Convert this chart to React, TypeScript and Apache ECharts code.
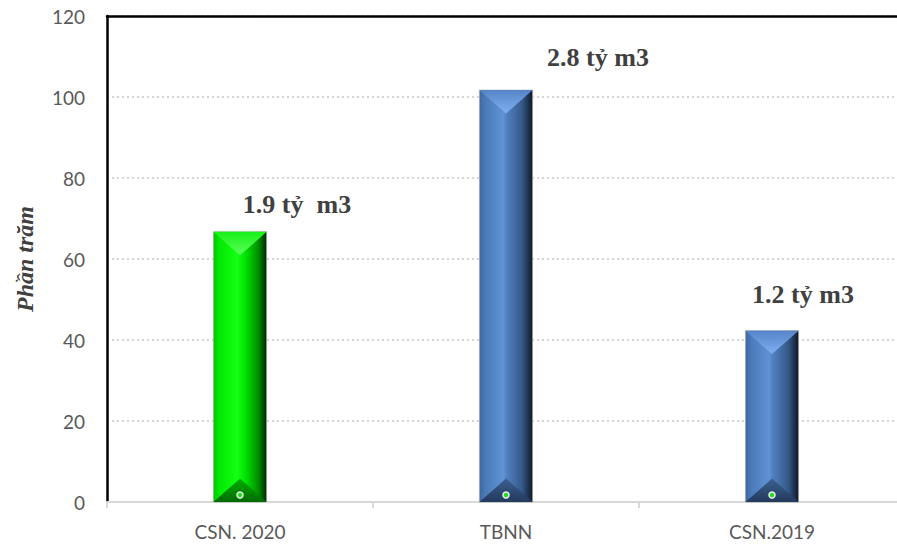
import React, { useEffect, useRef } from "react";
import * as echarts from "echarts";

const categories = ["CSN. 2020", "TBNN", "CSN.2019"];
const values = [66.7, 101.7, 42.3];
const barLabels = ["1.9 tỷ  m3", "2.8 tỷ m3", "1.2 tỷ m3"];
const yTicks = { min: 0, max: 120, interval: 20 };
const yTitle = "Phần trăm";

// label offsets relative to bar top-center (style/position, not data)
const labelOffsets = [
  [57, -27],
  [92, -33],
  [31, -36],
];

const palettes = [
  {
    body: [
      [0, "#00c400"],
      [0.1, "#00e800"],
      [0.45, "#14ff14"],
      [0.6, "#00e400"],
      [0.85, "#008c00"],
      [1, "#002800"],
    ],
    top: ["#5cff5c", "#18f018"],
    bottom: ["#00b000", "#006a00"],
  },
  {
    body: [
      [0, "#3d67a0"],
      [0.1, "#4a79b8"],
      [0.45, "#5f92d6"],
      [0.52, "#507fbf"],
      [0.8, "#35598a"],
      [1, "#0e1828"],
    ],
    top: ["#7fb0f0", "#5585c8"],
    bottom: ["#3c5f90", "#223a5c"],
  },
  {
    body: [
      [0, "#3d67a0"],
      [0.1, "#4a79b8"],
      [0.45, "#5f92d6"],
      [0.52, "#507fbf"],
      [0.8, "#35598a"],
      [1, "#0e1828"],
    ],
    top: ["#7fb0f0", "#5585c8"],
    bottom: ["#3c5f90", "#223a5c"],
  },
];

export default function App() {
  const ref = useRef<HTMLDivElement>(null);
  useEffect(() => {
    if (!ref.current) return;
    const chart = echarts.init(ref.current, null, { renderer: "svg" });
    const data = values.map((v, i) => [i, v]);
    chart.setOption({
      animation: false,
      backgroundColor: "#ffffff",
      grid: { left: 107, top: 16, bottom: 44, right: 15, containLabel: false },
      xAxis: [
        {
          type: "category",
          data: categories,
          axisLine: { show: true, lineStyle: { color: "#d9d9d9", width: 2 } },
          axisTick: { show: true, length: 6, lineStyle: { color: "#d9d9d9", width: 2 } },
          axisLabel: {
            color: "#595959",
            fontFamily: "Lato",
            fontSize: 19,
            margin: 20,
          },
          splitLine: { show: false },
        },
        {
          type: "category",
          position: "top",
          data: categories,
          axisLine: { show: true, lineStyle: { color: "#000000", width: 2.5 } },
          axisTick: { show: false },
          axisLabel: { show: false },
        },
      ],
      yAxis: {
        type: "value",
        min: yTicks.min,
        max: yTicks.max,
        interval: yTicks.interval,
        axisLine: { show: true, lineStyle: { color: "#000000", width: 2.5 } },
        axisTick: { show: false },
        axisLabel: {
          color: "#595959",
          fontFamily: "Lato",
          fontSize: 19,
          margin: 22,
        },
        splitLine: {
          show: true,
          lineStyle: { color: "#c8c8c8", width: 1.5, type: [2, 3] },
        },
      },
      graphic: [
        {
          type: "text",
          x: 25,
          y: 259,
          rotation: Math.PI / 2,
          style: {
            text: yTitle,
            fill: "#404040",
            font: "italic bold 24px 'Liberation Serif', serif",
            align: "center",
            verticalAlign: "middle",
          },
        },
      ],
      series: [
        {
          type: "custom",
          data,
          encode: { x: 0, y: 1 },
          renderItem: (params: any, api: any) => {
            const idx = params.dataIndex;
            const val = api.value(1);
            const topPt = api.coord([idx, val]);
            const basePt = api.coord([idx, 0]);
            const w = api.size([1, 0])[0] * 0.2;
            const cx = topPt[0];
            const x0 = cx - w / 2;
            const x1 = cx + w / 2;
            const y0 = topPt[1];
            const y1 = basePt[1];
            const bev = Math.min(w * 0.44, (y1 - y0) / 2);
            const pal = palettes[idx];
            const off = labelOffsets[idx];
            return {
              type: "group",
              children: [
                {
                  type: "rect",
                  shape: { x: x0, y: y0, width: w, height: y1 - y0 },
                  style: {
                    fill: new echarts.graphic.LinearGradient(
                      0, 0, 1, 0,
                      pal.body.map((s) => ({ offset: s[0] as number, color: s[1] as string }))
                    ),
                    stroke: "rgba(170,170,170,0.7)",
                    lineWidth: 1,
                  },
                },
                {
                  type: "polygon",
                  shape: { points: [[x0, y0], [x1, y0], [cx, y0 + bev]] },
                  style: {
                    fill: new echarts.graphic.LinearGradient(0, 0, 0, 1, [
                      { offset: 0, color: pal.top[1] },
                      { offset: 1, color: pal.top[0] },
                    ]),
                  },
                },
                {
                  type: "polygon",
                  shape: { points: [[x0, y1], [x1, y1], [cx, y1 - bev]] },
                  style: {
                    fill: new echarts.graphic.LinearGradient(0, 0, 0, 1, [
                      { offset: 0, color: pal.bottom[0] },
                      { offset: 1, color: pal.bottom[1] },
                    ]),
                  },
                },
                {
                  type: "circle",
                  shape: { cx: cx, cy: y1 - 7, r: 3 },
                  style: { fill: "#22dd22", stroke: "#f0f0f0", lineWidth: 1.5 },
                },
                {
                  type: "text",
                  x: cx + off[0],
                  y: y0 + off[1],
                  style: {
                    text: barLabels[idx],
                    fill: "#404040",
                    font: "bold 26px 'Liberation Serif', serif",
                    align: "center",
                    verticalAlign: "middle",
                  },
                },
              ],
            };
          },
        },
      ],
    });
    return () => chart.dispose();
  }, []);
  return (
    <div
      style={{
        position: "absolute",
        left: 0,
        top: 0,
        width: 897,
        height: 546,
        overflow: "hidden",
      }}
    >
      <div ref={ref} style={{ width: 920, height: 546 }} />
    </div>
  );
}
